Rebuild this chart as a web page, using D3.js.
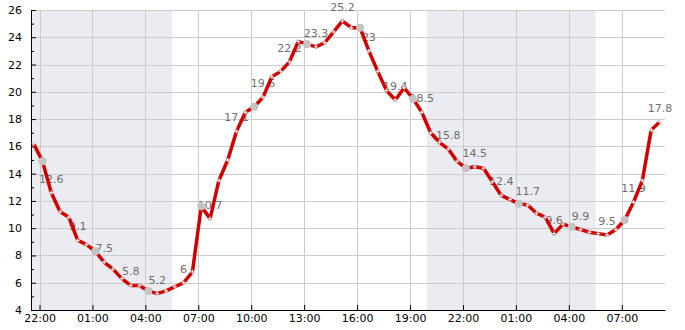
<!DOCTYPE html>
<html>
<head>
<meta charset="utf-8">
<script src="https://cdn.jsdelivr.net/npm/d3@7"></script>
<style>
  body { margin: 0; background: #fff; }
  svg { display: block; font-family: "DejaVu Sans", sans-serif; }
</style>
</head>
<body>
<div id="content"></div>
<script>
var width = 685,
    height = 330;
var margin = { top: 10, right: 20, bottom: 20, left: 31 };

// half-hourly temperatures, first reading at 21:40
var startTime = "2023-07-14T21:40";
var stepMinutes = 30;
var temps = [16.2, 14.9, 12.6, 11.2, 10.8, 9.1, 8.8, 8.3, 7.5, 7.0, 6.3, 5.8,
             5.8, 5.4, 5.2, 5.4, 5.7, 6.0, 6.8, 11.6, 10.7, 13.5, 15.0, 17.1,
             18.5, 18.9, 19.6, 21.1, 21.5, 22.2, 23.7, 23.5, 23.3, 23.6, 24.4, 25.2,
             24.7, 24.7, 23.0, 21.5, 20.1, 19.4, 20.3, 19.5, 18.5, 17.0, 16.3, 15.8,
             14.9, 14.4, 14.5, 14.4, 13.4, 12.4, 12.1, 11.8, 11.7, 11.1, 10.8, 9.6,
             10.3, 10.1, 9.9, 9.7, 9.6, 9.5, 9.9, 10.6, 11.9, 13.5, 17.2, 17.8];

// sunset -> sunrise
var nights = [["2023-07-14T19:57", "2023-07-15T05:31"],
              ["2023-07-15T19:57", "2023-07-16T05:31"]];

var xStart = "2023-07-14T21:31",
    xEnd = "2023-07-16T09:27";
var yTicks = [4, 6, 8, 10, 12, 14, 16, 18, 20, 22, 24, 26];
var yMinor = [5, 7, 9, 11, 13, 15, 17, 19, 21, 23, 25];

var parse = d3.timeParse("%Y-%m-%dT%H:%M");
var t0 = parse(startTime);
var data = temps.map(function (v, i) {
    return { t: d3.timeMinute.offset(t0, i * stepMinutes), v: v, i: i };
});

var svg = d3.select("#content")
    .append("svg")
    .attr("width", width)
    .attr("height", height);

var x = d3.scaleTime()
    .domain([parse(xStart), parse(xEnd)])
    .range([margin.left, width - margin.right]);

var y = d3.scaleLinear()
    .domain([4, 26])
    .range([height - margin.bottom, margin.top]);

// x ticks every 3 hours from 22:00
var xTicks = d3.timeHour.range(x.domain()[0], x.domain()[1])
    .filter(function (d) { return d.getHours() % 3 === 1; });

// night shading
svg.append("g")
    .selectAll("rect")
    .data(nights)
    .enter()
    .append("rect")
    .attr("x", function (d) { return Math.max(x(parse(d[0])), x.range()[0]); })
    .attr("width", function (d) {
        return x(parse(d[1])) - Math.max(x(parse(d[0])), x.range()[0]);
    })
    .attr("y", y(26))
    .attr("height", y(4) - y(26))
    .attr("fill", "#ebecf2");

// grid
var grid = svg.append("g")
    .attr("stroke", "#cccccc")
    .attr("stroke-width", 1);

grid.selectAll("hline")
    .data(yTicks.slice(1))
    .enter()
    .append("line")
    .attr("x1", x.range()[0])
    .attr("x2", x.range()[1])
    .attr("y1", function (d) { return Math.round(y(d)) + 0.5; })
    .attr("y2", function (d) { return Math.round(y(d)) + 0.5; });

grid.selectAll("vline")
    .data(xTicks)
    .enter()
    .append("line")
    .attr("x1", function (d) { return Math.round(x(d)) + 0.5; })
    .attr("x2", function (d) { return Math.round(x(d)) + 0.5; })
    .attr("y1", y(26))
    .attr("y2", y(4));

// axes
var xAxis = svg.append("g")
    .attr("transform", "translate(0," + y(4) + ")")
    .call(d3.axisBottom(x)
        .tickValues(xTicks)
        .tickFormat(d3.timeFormat("%H:%M"))
        .tickSizeInner(-5)
        .tickSizeOuter(0)
        .tickPadding(4));

var yAxis = svg.append("g")
    .attr("transform", "translate(" + x.range()[0] + ",0)")
    .call(d3.axisLeft(y)
        .tickValues(yTicks)
        .tickSizeInner(-5)
        .tickSizeOuter(0)
        .tickPadding(9));

svg.append("g")
    .attr("transform", "translate(" + x.range()[0] + ",0)")
    .call(d3.axisLeft(y)
        .tickValues(yMinor)
        .tickFormat("")
        .tickSizeInner(-3)
        .tickSizeOuter(0))
    .select(".domain").remove();

svg.selectAll(".tick text")
    .attr("font-family", "DejaVu Sans")
    .attr("font-size", 11)
    .attr("fill", "#000");

// value labels every 3rd point
svg.append("g")
    .selectAll("text")
    .data(data.filter(function (d) { return d.i % 3 === 2; }))
    .enter()
    .append("text")
    .attr("x", function (d) { return x(d.t); })
    .attr("y", function (d) { return y(d.v) - 10; })
    .attr("text-anchor", "middle")
    .attr("font-size", 11)
    .attr("fill", "#6e6e6e")
    .text(function (d) { return d.v; });

// the curve
svg.append("path")
    .datum(data)
    .attr("fill", "none")
    .attr("stroke", "#d40000")
    .attr("stroke-width", 3.5)
    .attr("stroke-linejoin", "round")
    .attr("d", d3.line()
        .x(function (d) { return x(d.t); })
        .y(function (d) { return y(d.v); }));

// small markers on every point
svg.append("g")
    .selectAll("path")
    .data(data)
    .enter()
    .append("path")
    .attr("transform", function (d) { return "translate(" + x(d.t) + "," + y(d.v) + ")"; })
    .attr("d", d3.symbol().type(d3.symbolCross).size(9))
    .attr("fill", "#dddddd");

// bigger grey dots every 3 hours
svg.append("g")
    .selectAll("circle")
    .data(data.filter(function (d) { return d.i % 6 === 1; }))
    .enter()
    .append("circle")
    .attr("cx", function (d) { return x(d.t); })
    .attr("cy", function (d) { return y(d.v); })
    .attr("r", 4)
    .attr("fill", "#c4c4c4");
</script>
</body>
</html>
